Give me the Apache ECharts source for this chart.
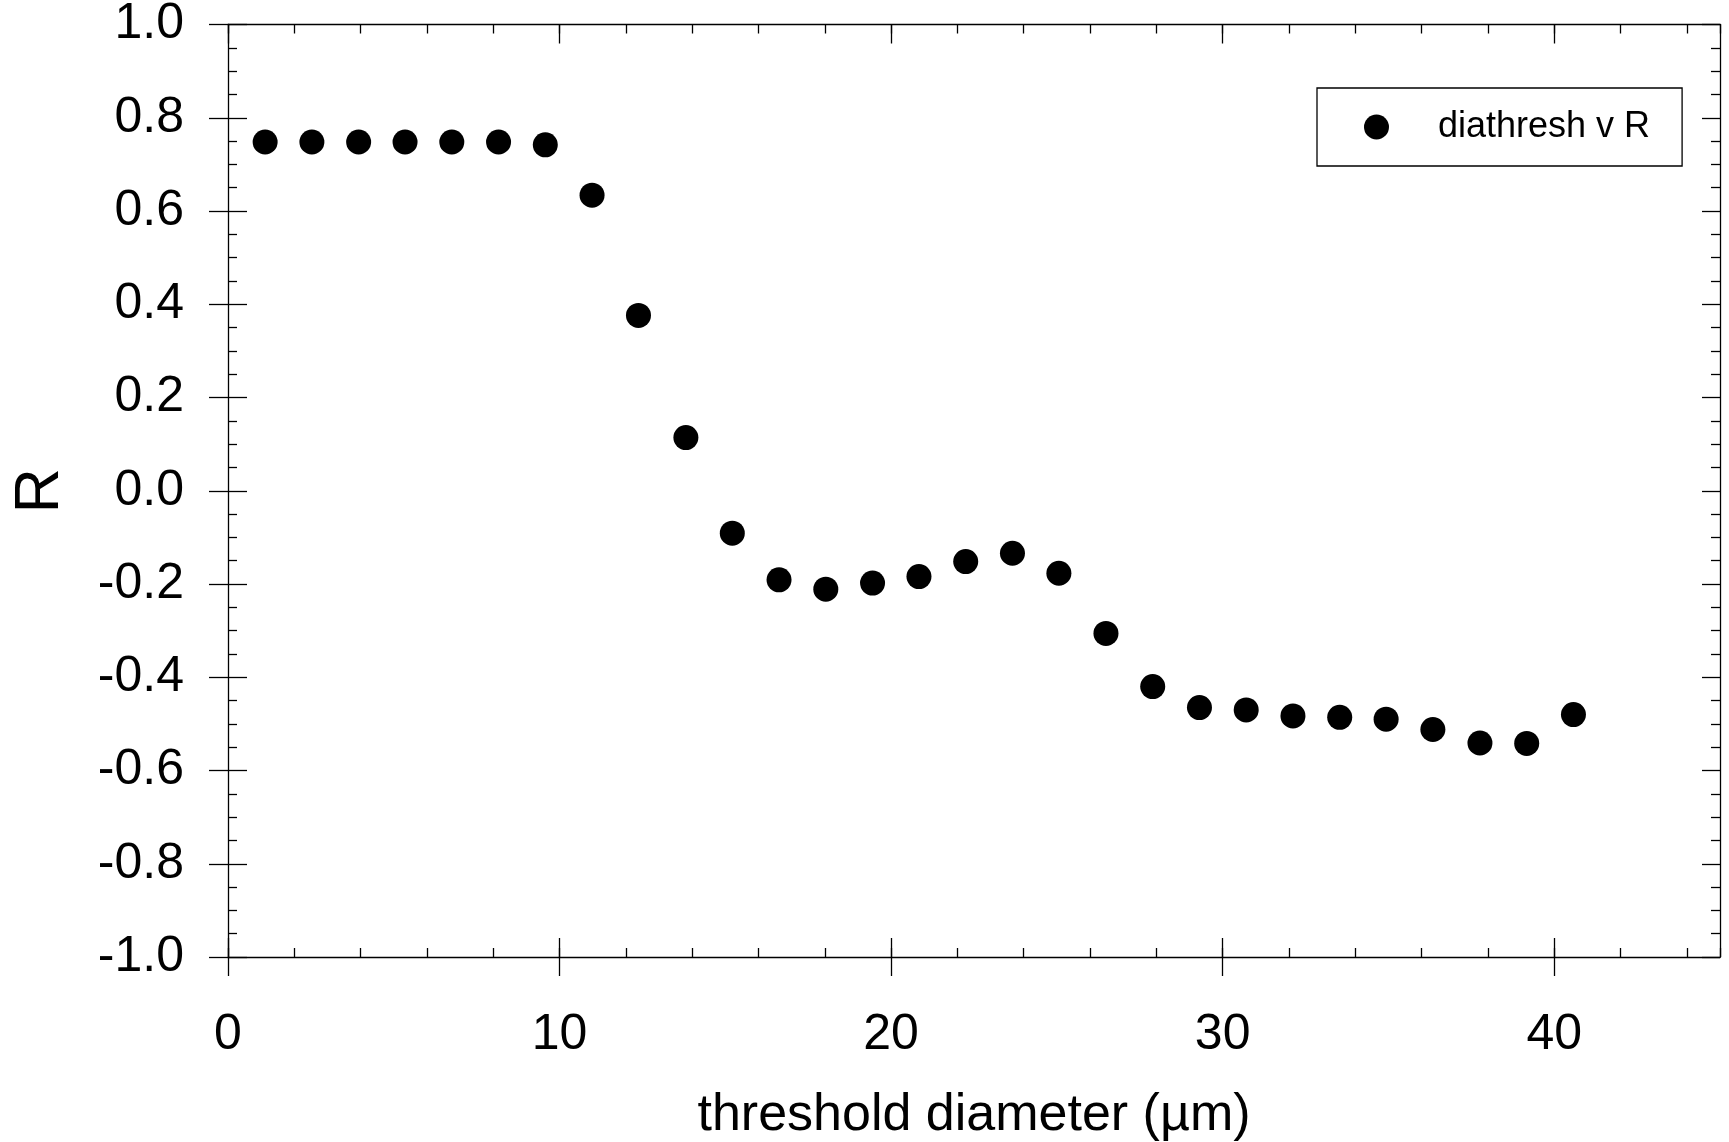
<!DOCTYPE html>
<html>
<head>
<meta charset="utf-8">
<script src="https://cdn.jsdelivr.net/npm/echarts@6/dist/echarts.min.js"></script>
<style>
html,body{margin:0;padding:0;background:#fff;}
#chart{width:1729px;height:1142px;}
</style>
</head>
<body>
<div id="chart"></div>
<script>
// Data
var seriesName = 'diathresh v R';
var xTitle = 'threshold diameter (\u00b5m)';
var yTitle = 'R';
var diameters = [1.12, 2.53, 3.94, 5.34, 6.75, 8.16, 9.57, 10.98, 12.38, 13.81, 15.21, 16.62, 18.03, 19.44, 20.84, 22.25, 23.66, 25.06, 26.48, 27.89, 29.30, 30.71, 32.12, 33.53, 34.93, 36.34, 37.76, 39.17, 40.58];
var rValues = [0.748, 0.748, 0.748, 0.748, 0.748, 0.748, 0.742, 0.634, 0.376, 0.114, -0.091, -0.191, -0.211, -0.198, -0.184, -0.152, -0.134, -0.177, -0.306, -0.420, -0.465, -0.470, -0.483, -0.486, -0.490, -0.512, -0.541, -0.542, -0.480];
var xMajorTicks = [0, 10, 20, 30, 40];

var FONT = '"Liberation Sans", Arial, Helvetica, sans-serif';
var LINE = {color: '#000', width: 1.3};

var points = diameters.map(function (d, i) { return [d, rValues[i]]; });

function xAxisBase(pos) {
  return {
    type: 'value', position: pos, min: 0, max: 45,
    axisLine: {show: false, onZero: false, lineStyle: LINE},
    axisTick: {show: false, lineStyle: LINE},
    axisLabel: {show: false},
    splitLine: {show: false}
  };
}
function yAxisBase(pos) {
  return {
    type: 'value', position: pos, min: -1, max: 1, interval: 0.2,
    axisLine: {show: false, onZero: false, lineStyle: LINE},
    axisTick: {show: false, lineStyle: LINE},
    axisLabel: {show: false},
    splitLine: {show: false}
  };
}

// bottom axis with labels and outward major ticks
var xb0 = xAxisBase('bottom');
xb0.axisLine.show = true;
xb0.axisTick = {show: true, inside: false, length: 19, customValues: xMajorTicks, lineStyle: LINE};
xb0.axisLabel = {show: true, customValues: xMajorTicks, fontSize: 50, fontFamily: FONT, color: '#000', margin: 53};
xb0.name = xTitle;
xb0.nameLocation = 'middle';
xb0.nameGap = 133;
xb0.nameTextStyle = {fontSize: 52, fontFamily: FONT, color: '#000'};
// bottom inward major ticks
var xb1 = xAxisBase('bottom');
xb1.axisTick = {show: true, inside: true, length: 19, customValues: xMajorTicks, lineStyle: LINE};
// bottom inward minor ticks
var xb2 = xAxisBase('bottom');
xb2.interval = 2;
xb2.axisTick = {show: true, inside: true, length: 9, lineStyle: LINE};
// top axis
var xt0 = xAxisBase('top');
xt0.axisLine.show = true;
xt0.axisTick = {show: true, inside: true, length: 19, customValues: xMajorTicks, lineStyle: LINE};
var xt1 = xAxisBase('top');
xt1.interval = 2;
xt1.axisTick = {show: true, inside: true, length: 9, lineStyle: LINE};

// left axis with labels and outward major ticks
var yl0 = yAxisBase('left');
yl0.axisLine.show = true;
yl0.axisTick = {show: true, inside: false, length: 19, lineStyle: LINE};
yl0.axisLabel = {show: true, fontSize: 50, fontFamily: FONT, color: '#000', margin: 44,
  formatter: function (v) { return v.toFixed(1); }};
yl0.name = yTitle;
yl0.nameLocation = 'middle';
yl0.nameGap = 156;
yl0.nameTextStyle = {fontSize: 63, fontFamily: FONT, color: '#000'};
// left inward major + minor ticks
var yl1 = yAxisBase('left');
yl1.axisTick = {show: true, inside: true, length: 19, lineStyle: LINE};
yl1.minorTick = {show: true, splitNumber: 4, length: 9, lineStyle: LINE};
// right axis
var yr0 = yAxisBase('right');
yr0.axisLine.show = true;
yr0.axisTick = {show: true, inside: true, length: 18, lineStyle: LINE};
yr0.minorTick = {show: true, splitNumber: 4, length: 9, lineStyle: LINE};

var chart = echarts.init(document.getElementById('chart'), null, {renderer: 'canvas'});
chart.setOption({
  backgroundColor: '#fff',
  animation: false,
  grid: {left: 228, right: 9, top: 24.5, bottom: 185, containLabel: false, outerBoundsMode: 'none'},
  legend: {
    show: true,
    data: [seriesName],
    left: 1317, top: 88,
    padding: [21, 32, 21, 47],
    itemWidth: 25, itemHeight: 25,
    icon: 'circle',
    borderColor: '#000', borderWidth: 1.3,
    backgroundColor: '#fff',
    itemStyle: {opacity: 1, color: '#000'},
    textStyle: {fontSize: 36, fontFamily: FONT, color: '#000', padding: [0, 0, 0, 44]}
  },
  xAxis: [xb0, xb1, xb2, xt0, xt1],
  yAxis: [yl0, yl1, yr0],
  series: [{
    name: seriesName,
    type: 'scatter',
    xAxisIndex: 0, yAxisIndex: 0,
    symbol: 'circle',
    symbolSize: 25,
    itemStyle: {color: '#000', opacity: 1},
    data: points
  }]
});
</script>
</body>
</html>
